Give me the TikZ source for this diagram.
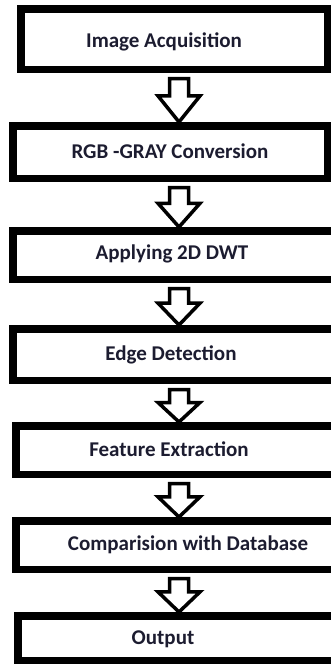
\documentclass[tikz,border=0pt]{standalone}
\usepackage{fontspec}
\setmainfont{Carlito}
\usetikzlibrary{calc}
\definecolor{inkdark}{RGB}{28,28,48}
\tikzset{
  stagebox/.style={draw=black, fill=white, line width=7.5pt, rectangle,
    inner sep=0pt, anchor=north west},
  stagetext/.style={text=inkdark, font=\bfseries\fontsize{21}{25}\selectfont,
    anchor=base, inner sep=0pt},
  flowarrow/.style={draw=black, fill=white, line width=3.5pt, line join=miter}
}
% hollow block arrow from the bottom of box #1 to the top of box #2
\newcommand\stagearrow[2]{%
  \draw[flowarrow] let \p1 = ($(#1.south -| arrx)+(0,5.5)$),
                       \p2 = (#2.north -| arrx),
                       \n1 = {\y1-\y2} in
    (\x1-9.5pt,\y1) -- (\x1+9.5pt,\y1) -- (\x1+9.5pt,\y1-0.4*\n1)
    -- (\x1+21pt,\y1-0.4*\n1) -- (\x2,\y2) -- (\x1-21pt,\y1-0.4*\n1)
    -- (\x1-9.5pt,\y1-0.4*\n1) -- cycle;}
\begin{document}
\begin{tikzpicture}[x=1pt,y=-1pt]
  \useasboundingbox (0,0) rectangle (331,664);
  \fill[white] (0,0) rectangle (331,664);
  \clip (0,0) rectangle (331,664);
  \coordinate (arrx) at (179,0);

  % process stages (outer corners)
  \node[stagebox, minimum width=306.5pt, minimum height=60.5pt] (b1) at (17,5) {};
  \node[stagebox, minimum width=314.5pt, minimum height=52.5pt] (b2) at (9,122) {};
  \node[stagebox, minimum width=328.5pt, minimum height=48.5pt] (b3) at (9,227) {};
  \node[stagebox, minimum width=328.5pt, minimum height=51.5pt] (b4) at (9,325) {};
  \node[stagebox, minimum width=325.5pt, minimum height=48.5pt] (b5) at (12,422) {};
  \node[stagebox, minimum width=325.5pt, minimum height=48.5pt] (b6) at (12,517) {};
  \node[stagebox, minimum width=323.5pt, minimum height=44.5pt] (b7) at (14,612) {};

  % stage labels
  \node[stagetext] (t1) at (164,47)  {Image Acquisition};
  \node[stagetext] (t2) at (170,158.5) {RGB -GRAY Conversion};
  \node[stagetext] (t3) at (172,259) {Applying 2D DWT};
  \node[stagetext] (t4) at (171,360) {Edge Detection};
  \node[stagetext] (t5) at (169,456.5) {Feature Extraction};
  \node[stagetext] (t6) at (188,550.5) {Comparision with Database};
  \node[stagetext] (t7) at (163,644) {Output};

  % flow between stages
  \stagearrow{b1}{b2}
  \stagearrow{b2}{b3}
  \stagearrow{b3}{b4}
  \stagearrow{b4}{b5}
  \stagearrow{b5}{b6}
  \stagearrow{b6}{b7}
\end{tikzpicture}
\end{document}
